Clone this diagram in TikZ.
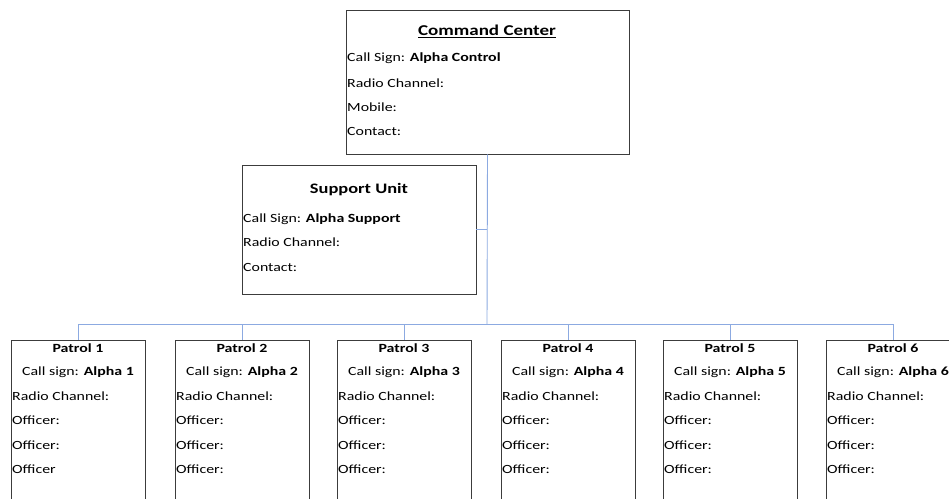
\documentclass[tikz,border=0pt]{standalone}
\usepackage{fontspec}
\setmainfont{Carlito}[FakeStretch=1.27]
\usetikzlibrary{positioning}
\definecolor{linkblue}{RGB}{140,170,225}
\definecolor{boxgray}{RGB}{60,60,60}

\begin{document}
\begin{tikzpicture}[x=1pt,y=-1pt,
  unitbox/.style={rectangle, draw=boxgray, line width=0.8pt, inner sep=0pt},
  link/.style={draw=linkblue, line width=0.9pt},
  title/.style={font=\bfseries\fontsize{12.5}{15}\selectfont, inner sep=0pt},
  entry/.style={anchor=west, font=\fontsize{12.5}{15}\selectfont, inner sep=0pt}]
\useasboundingbox (0,0) rectangle (949,498);
\clip (0,0) rectangle (949,498);

% Command center
\node[unitbox, minimum width=283pt, minimum height=144pt] (cmd) at (487.5,82) {};
\node[title, font=\bfseries\fontsize{15}{18}\selectfont] (cmdtitle) at (487,31) {\underline{Command Center}};
\node[entry] (cmdsign) at (347,58) {Call Sign: \textbf{Alpha Control}};
\node[entry] (cmdradio) at (347,83) {Radio Channel:};
\node[entry] (cmdmobile) at (347,107) {Mobile:};
\node[entry] (cmdcontact) at (347,131) {Contact:};

% Support unit
\node[unitbox, minimum width=234pt, minimum height=129pt] (sup) at (359,229.5) {};
\node[title, font=\bfseries\fontsize{14.5}{17}\selectfont] (suptitle) at (359,190) {Support Unit};
\node[entry] (supsign) at (243,219) {Call Sign: \textbf{Alpha Support}};
\node[entry] (supradio) at (243,242) {Radio Channel:};
\node[entry] (supcontact) at (243,267) {Contact:};

% Patrols
\foreach \i/\x/\last in {1/11/Officer, 2/175/Officer:, 3/337/Officer:, 4/501/Officer:, 5/663/Officer:, 6/826/Officer:} {
  \node[unitbox, minimum width=134pt, minimum height=200pt] (p\i) at (\x+67,440) {};
  \node[title] (p\i title) at (\x+67,348) {Patrol \i};
  \node[entry, anchor=center] (p\i sign) at (\x+67,372) {Call sign: \textbf{Alpha \i}};
  \node[entry] (p\i radio) at (\x+1,396) {Radio Channel:};
  \node[entry] (p\i off1) at (\x+1,420) {Officer:};
  \node[entry] (p\i off2) at (\x+1,445) {Officer:};
  \node[entry] (p\i off3) at (\x+1,469) {\last};
}

% Connectors
\coordinate (bus) at (487,324);
\draw[link] (cmd.south) -- (bus);
\draw[link] (sup.east) -- (sup.east -| bus);
\foreach \i in {1,...,6}
  \draw[link] (p\i.north) |- (bus);
\end{tikzpicture}
\end{document}
